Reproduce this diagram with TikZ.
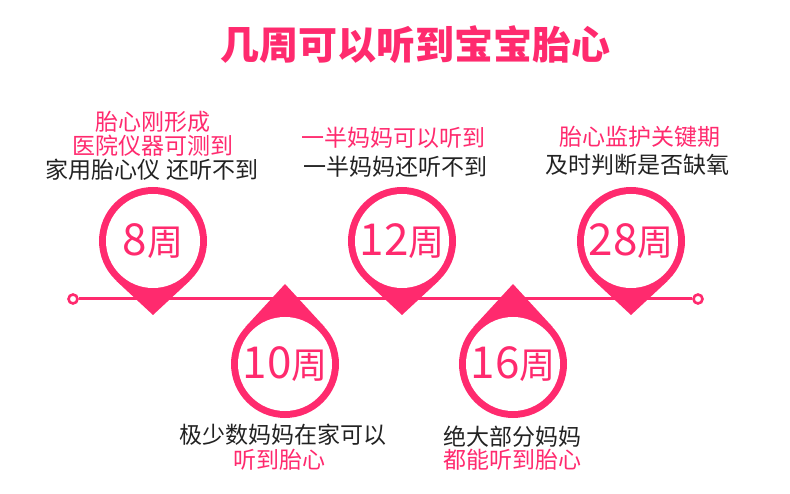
\documentclass[tikz,border=0pt]{standalone}
\usepackage{fontspec}
\setmainfont{Noto Sans CJK SC}
\usetikzlibrary{calc}
\definecolor{pinpink}{RGB}{255,42,110}
\definecolor{notedark}{RGB}{34,34,34}
\tikzset{
  timeline/.style={draw=pinpink, line width=3pt},
  endcap/.style={circle, draw=pinpink, fill=white, line width=2.6pt, inner sep=0pt, minimum size=9pt},
  weekring/.style={circle, fill=pinpink, inner sep=0pt, minimum size=108pt},
  weekface/.style={circle, fill=white, text=pinpink, inner sep=0pt, minimum size=94pt},
  pinknote/.style={text=pinpink, font=\fontsize{23}{26}\selectfont, inner sep=0pt},
  darknote/.style={text=notedark, font=\fontsize{23}{26}\selectfont, inner sep=0pt},
  headline/.style={text=pinpink, font=\fontsize{39}{44}\selectfont\bfseries, inner sep=0pt},
}
\newcommand{\weekpin}[4]{% #1 name, #2 centre, #3 tip, #4 weeks
  \node[weekring] (#1) at (#2) {};
  \coordinate (#1-tip) at (#3);
  \fill[pinpink] (tangent cs:node=#1,point={(#1-tip)},solution=1) -- (#1-tip)
    -- (tangent cs:node=#1,point={(#1-tip)},solution=2) -- cycle;
  \node[weekface] (#1-face) at (#1)
    {\fontsize{44}{44}\selectfont #4{\fontsize{36}{36}\selectfont 周}};}

\begin{document}
\begin{tikzpicture}[x=1pt, y=-1pt]
  \useasboundingbox (0,0) rectangle (790,494);
  % title
  \node[headline] (title) at (415,45) {几周可以听到宝宝胎心};
  % timeline with open ends
  \node[endcap] (tl-start) at (73,299) {};
  \node[endcap] (tl-end) at (698,299) {};
  \draw[timeline] (tl-start) -- (tl-end);
  % pins above the line point down, pins below point up
  \weekpin{w8}{153,241}{153,315}{8}
  \weekpin{w12}{402,241}{402,315}{12}
  \weekpin{w28}{631,241}{631,315}{28}
  \weekpin{w10}{285,364}{285,284}{10}
  \weekpin{w16}{513,364}{513,284}{16}
  % notes for each week
  \node[pinknote] (w8-a) at (153,122) {胎心刚形成};
  \node[pinknote] (w8-b) at (153,146) {医院仪器可测到};
  \node[darknote] (w8-c) at (152,170) {家用胎心仪 还听不到};
  \node[pinknote] (w12-a) at (393,138) {一半妈妈可以听到};
  \node[darknote] (w12-b) at (395,167) {一半妈妈还听不到};
  \node[pinknote] (w28-a) at (640,137) {胎心监护关键期};
  \node[darknote] (w28-b) at (637,165) {及时判断是否缺氧};
  \node[darknote] (w10-a) at (283,435) {极少数妈妈在家可以};
  \node[pinknote] (w10-b) at (279,460) {听到胎心};
  \node[darknote] (w16-a) at (512,437) {绝大部分妈妈};
  \node[pinknote] (w16-b) at (512,460) {都能听到胎心};
\end{tikzpicture}
\end{document}
